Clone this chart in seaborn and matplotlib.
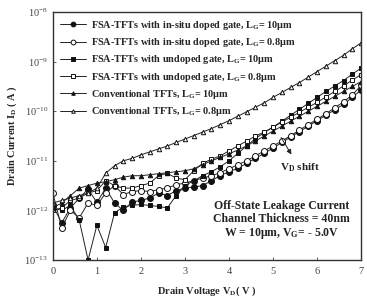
import numpy as np
import pandas as pd
import seaborn as sns
from matplotlib import pyplot as plt

# drain voltage sweep, 0.2 V steps
vd = np.round(np.arange(0, 36) * 0.2, 1)

# log10 of drain current (A)
insitu_10 = [-11.9, -12.25, -11.95, -11.75, -11.57, -11.84, -11.55, -11.85, -12.0, -11.83,
             -11.8, -11.75, -11.65, -11.7, -11.6, -11.55, -11.53, -11.5, -11.4, -11.3,
             -11.22, -11.15, -11.05, -10.95, -10.85, -10.74, -10.63, -10.52, -10.41, -10.3,
             -10.19, -10.08, -9.97, -9.86, -9.72, -9.57]
insitu_08 = [-11.65, -12.35, -12.0, -12.15, -11.85, -11.9, -11.65, -11.5, -11.68, -11.62,
             -11.6, -11.62, -11.58, -11.55, -11.48, -11.45, -11.4, -11.35, -11.3, -11.24,
             -11.16, -11.08, -11.0, -10.9, -10.8, -10.7, -10.6, -10.49, -10.38, -10.27,
             -10.16, -10.05, -9.93, -9.81, -9.67, -9.48]
undoped_10 = [-11.95, -12.0, -11.9, -12.2, -13.0, -12.3, -12.75, -12.05, -11.93, -11.9,
              -11.88, -11.9, -11.92, -11.95, -11.7, -11.5, -11.4, -11.3, -11.22, -11.12,
              -11.0, -10.85, -10.7, -10.55, -10.43, -10.32, -10.2, -10.08, -9.96, -9.84,
              -9.72, -9.6, -9.49, -9.38, -9.25, -9.13]
undoped_08 = [-12.0, -11.95, -11.8, -11.75, -11.65, -11.6, -11.4, -11.5, -11.55, -11.55,
              -11.5, -11.45, -11.3, -11.25, -11.35, -11.38, -11.2, -11.05, -10.97, -10.9,
              -10.8, -10.7, -10.6, -10.5, -10.42, -10.32, -10.22, -10.12, -10.02, -9.92,
              -9.82, -9.71, -9.6, -9.49, -9.37, -9.26]
conv_10 = [-11.95, -11.85, -11.7, -11.55, -11.5, -11.45, -11.42, -11.38, -11.33, -11.3,
           -11.3, -11.28, -11.26, -11.24, -11.22, -11.2, -11.16, -11.08, -11.0, -10.93,
           -10.86, -10.78, -10.7, -10.6, -10.5, -10.4, -10.3, -10.2, -10.1, -10.0,
           -9.9, -9.8, -9.7, -9.6, -9.5, -9.4]
conv_08 = [-11.85, -11.8, -11.75, -11.7, -11.65, -11.55, -11.25, -11.1, -11.0, -10.95,
           -10.88, -10.82, -10.76, -10.7, -10.63, -10.56, -10.49, -10.42, -10.35, -10.27,
           -10.19, -10.1, -10.01, -9.92, -9.83, -9.72, -9.62, -9.52, -9.42, -9.31,
           -9.2, -9.09, -8.98, -8.87, -8.74, -8.62]

labels = [r"FSA-TFTs with in-situ doped gate, L$_\mathbf{G}$= 10$\mathbf{\mu}$m",
          r"FSA-TFTs with in-situ doped gate, L$_\mathbf{G}$= 0.8$\mathbf{\mu}$m",
          r"FSA-TFTs with undoped gate, L$_\mathbf{G}$= 10$\mathbf{\mu}$m",
          r"FSA-TFTs with undoped gate, L$_\mathbf{G}$= 0.8$\mathbf{\mu}$m",
          r"Conventional TFTs, L$_\mathbf{G}$= 10$\mathbf{\mu}$m",
          r"Conventional TFTs, L$_\mathbf{G}$= 0.8$\mathbf{\mu}$m"]
series = [insitu_10, insitu_08, undoped_10, undoped_08, conv_10, conv_08]
markers = ["o", "o", "s", "s", "^", "^"]
filled = [True, False, True, False, True, False]
msizes = [4.3, 4.3, 2.9, 2.9, 3.2, 3.2]
yticks = [1e-13, 1e-12, 1e-11, 1e-10, 1e-9, 1e-8]

sns.set_style("ticks")
plt.rcParams['font.family'] = ['Liberation Serif', 'DejaVu Serif']
plt.rcParams['mathtext.fontset'] = 'custom'
plt.rcParams['mathtext.rm'] = 'Liberation Serif'
plt.rcParams['mathtext.bf'] = 'Liberation Serif:bold'
plt.rcParams['mathtext.it'] = 'Liberation Serif:italic'

fig = plt.figure(figsize=(3.67, 3.03), dpi=100)
ax = fig.add_axes([0.144, 0.142, 0.84, 0.818])

for vals, lab, mk, fl, ms in zip(series, labels, markers, filled, msizes):
    df = pd.DataFrame({"vd": vd, "id": 10.0 ** np.array(vals)})
    sns.lineplot(data=df, x="vd", y="id", ax=ax, color="#222222", linewidth=0.7,
                 marker=mk, markersize=ms, markeredgewidth=0.7, markeredgecolor="#111111",
                 markerfacecolor="#111111" if fl else "white", label=lab)

ax.set_yscale("log")
ax.set_yticks(yticks)
ax.yaxis.set_minor_locator(plt.NullLocator())
ax.set_xlim(0, 7)
ax.set_ylim(1e-13, 1e-8)
ax.set_xticks(range(0, 8))
ax.tick_params(direction="in", labelsize=7.5, colors="#444444", length=2.5, width=0.6)
ax.tick_params(axis="x", pad=5)
for sp in ax.spines.values():
    sp.set_linewidth(1.0)
    sp.set_color("#333333")

ax.set_xlabel(r"Drain Voltage V$_\mathbf{D}$( V )", fontsize=7.5, fontweight="bold", labelpad=6)
ax.set_ylabel(r"Drain Current I$_\mathbf{D}$ ( A )", fontsize=7.5, fontweight="bold", labelpad=4)

ax.legend(loc="upper left", frameon=False, prop={"weight": "bold", "size": 7.4},
          handlelength=2.6, labelspacing=0.42, borderaxespad=0.25, handletextpad=0.45,
          markerscale=0.8)

ax.text(5.2, 1.6e-12, "Off-State Leakage Current\nChannel Thickness = 40nm\n"
        r"W = 10$\mathbf{\mu}$m, V$_\mathbf{G}$= - 5.0V",
        ha="center", va="top", fontsize=8.5, fontweight="bold", linespacing=1.1, color="#222222")
ax.annotate("", xy=(5.45, 1.2e-11), xytext=(5.15, 3.3e-11),
            arrowprops=dict(arrowstyle="-|>", color="#222222", lw=0.7, mutation_scale=7))
ax.text(5.6, 0.95e-11, r"V$_\mathbf{D}$ shift", ha="center", va="top",
        fontsize=8, fontweight="bold", color="#222222")

fig.savefig("out.png", dpi=100)
